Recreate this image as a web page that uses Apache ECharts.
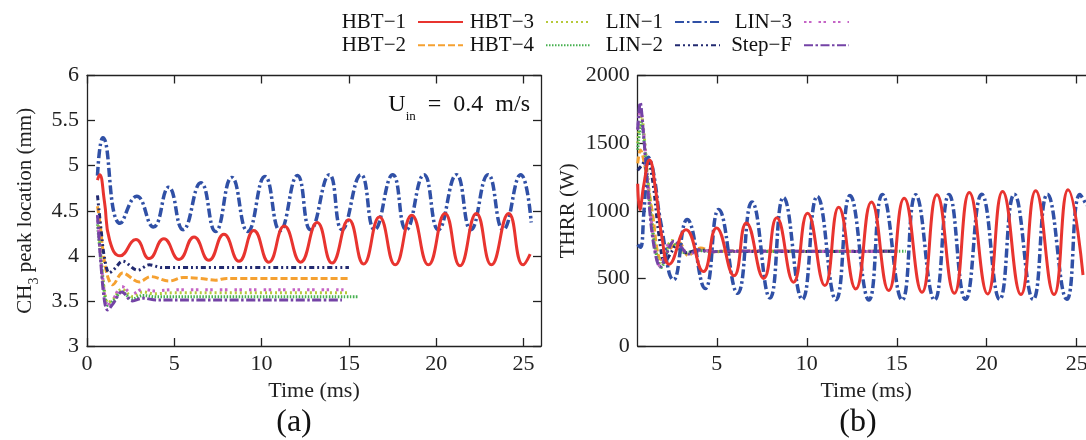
<!DOCTYPE html>
<html><head><meta charset="utf-8">
<script src="https://cdn.jsdelivr.net/npm/echarts@6/dist/echarts.min.js"></script>
<style>html,body{margin:0;padding:0;background:#fff}#c{width:1086px;height:440px}</style>
</head><body><div id="c"></div>
<script>
// ---------- data ----------
const seriesNames = ['HBT−1','HBT−2','HBT−3','HBT−4','LIN−1','LIN−2','LIN−3','Step−F'];
const xTicksA = [0,5,10,15,20,25];
const xTicksB = [5,10,15,20,25];

// panel (a): CH3 peak location (mm) vs time (ms)
const a_HBT1 = [[0.6,4.84],[0.72,4.90],[1.0,4.6],[1.3,4.17],[1.9,4.0],[2.8,4.18],[3.56,3.97],[4.4,4.19],[5.27,3.96],[6.13,4.21],[6.98,3.95],[7.84,4.24],[8.7,3.94],[9.55,4.28],[10.41,3.93],[11.3,4.33],[12.23,3.93],[13.18,4.37],[14.03,3.92],[14.99,4.40],[15.84,3.91],[16.75,4.43],[17.65,3.9],[18.6,4.45],[19.55,3.9],[20.5,4.47],[21.36,3.89],[22.3,4.47],[23.16,3.9],[24.15,4.47],[24.97,3.9],[25.38,4.02]];
const a_HBT2 = [[0.6,4.55],[0.75,4.35],[0.95,4.0],[1.2,3.76],[1.47,3.68],[2.04,3.81],[2.99,3.71],[3.65,3.77],[4.7,3.72],[5.5,3.76],[6.5,3.75],[7.36,3.73],[8.0,3.75],[15.0,3.75]];
const a_HBT3 = [[0.6,4.45],[0.8,4.0],[1.0,3.62],[1.2,3.48],[1.5,3.52],[2.0,3.63],[2.6,3.55],[3.2,3.6],[3.8,3.58],[5.0,3.59],[15.0,3.59]];
const a_HBT4 = [[0.6,4.35],[0.8,3.95],[1.0,3.58],[1.2,3.45],[1.5,3.5],[2.0,3.6],[2.6,3.52],[3.2,3.56],[4.0,3.545],[15.5,3.545]];
const a_LIN1 = [[0.6,4.89],[0.91,5.31],[1.9,4.36],[2.85,4.66],[3.8,4.32],[4.68,4.76],[5.5,4.29],[6.52,4.81],[7.36,4.27],[8.29,4.87],[9.2,4.27],[10.19,4.88],[11.05,4.28],[12.05,4.89],[12.8,4.29],[13.88,4.9],[14.6,4.29],[15.69,4.9],[16.47,4.29],[17.51,4.9],[18.28,4.29],[19.3,4.9],[20.12,4.29],[21.16,4.9],[21.98,4.29],[22.97,4.9],[23.83,4.29],[24.84,4.9],[25.44,4.37]];
const a_LIN2 = [[0.6,4.67],[0.8,4.3],[1.0,3.98],[1.28,3.81],[1.6,3.86],[2.04,3.94],[2.9,3.84],[3.56,3.9],[4.3,3.87],[15.0,3.87]];
const a_LIN3 = [[0.6,4.45],[0.8,3.95],[1.0,3.58],[1.15,3.45],[1.45,3.5],[2.0,3.66],[2.6,3.58],[3.2,3.63],[3.9,3.61],[5.0,3.625],[15.0,3.625]];
const a_STEPF = [[0.6,4.45],[0.8,3.9],[1.0,3.5],[1.18,3.40],[1.5,3.47],[2.0,3.6],[2.6,3.5],[3.2,3.53],[4.0,3.51],[14.6,3.51]];

// panel (b): THRR (W) vs time (ms)
const b_HBT1 = [[0.6,1200],[0.72,1010],[0.95,1200],[1.25,1375],[1.6,1150],[1.95,800],[2.35,605],[3.28,860],[4.25,550],[4.98,873],[5.95,520],[6.64,910],[7.6,500],[8.33,948],[9.26,472],[10.04,982],[11.0,447],[11.77,1025],[12.72,422],[13.59,1065],[14.55,410],[15.41,1093],[16.4,398],[17.23,1118],[18.2,390],[19.03,1135],[20.05,385],[20.88,1143],[21.9,380],[22.72,1148],[23.74,380],[24.52,1155],[25.35,525]];
const b_HBT2 = [[0.6,1350],[0.75,1450],[1.0,1330],[1.4,1000],[1.9,640],[2.4,720],[2.9,765],[3.4,670],[4.1,725],[4.8,695],[5.5,702],[15.0,700]];
const b_HBT3 = [[0.6,1500],[0.8,1700],[1.0,1500],[1.3,1050],[1.6,720],[1.9,600],[2.5,780],[3.2,685],[4.0,708],[5.0,698],[15.0,700]];
const b_HBT4 = [[0.6,1450],[0.8,1650],[1.0,1450],[1.3,1000],[1.6,700],[1.9,580],[2.5,760],[3.2,690],[4.0,705],[5.0,698],[15.5,700]];
const b_LIN1 = [[0.6,750],[0.75,730],[0.95,1000],[1.2,1395],[1.45,1300],[1.9,900],[2.6,490],[3.35,935],[4.35,425],[5.1,1010],[6.15,390],[6.95,1065],[7.95,355],[8.7,1098],[9.75,345],[10.58,1106],[11.62,342],[12.4,1112],[13.45,340],[14.2,1120],[15.3,340],[16.05,1118],[17.1,340],[17.9,1120],[18.82,345],[19.72,1122],[20.72,345],[21.53,1122],[22.58,345],[23.37,1122],[24.45,345],[25.18,1120],[25.55,1040]];
const b_LIN2 = [[0.6,1300],[0.85,1340],[1.1,1390],[1.4,1250],[1.8,800],[2.1,620],[2.5,700],[2.8,760],[3.3,690],[4.0,710],[5.0,698],[15.0,700]];
const b_LIN3 = [[0.6,1600],[0.75,1760],[0.95,1550],[1.25,1080],[1.55,720],[1.85,590],[2.4,760],[3.0,720],[3.5,685],[4.2,708],[5.0,698],[15.0,700]];
const b_STEPF = [[0.6,1600],[0.74,1800],[0.9,1600],[1.2,1100],[1.5,740],[1.85,585],[2.3,710],[2.6,775],[3.0,735],[3.4,680],[4.0,710],[4.6,695],[5.5,702],[15.0,700]];

// ---------- styles ----------
const FONT = 'Liberation Serif';
const styles = {
  'HBT−1': {color:'#e8342f', type:'solid', width:3},
  'HBT−2': {color:'#f5a131', type:[7,3], width:3},
  'HBT−3': {color:'#b6c93a', type:[2,3], width:3},
  'HBT−4': {color:'#46b04f', type:[1.5,1.5], width:3},
  'LIN−1': {color:'#3050a6', type:[9,3,2.5,3], width:3.5},
  'LIN−2': {color:'#222a70', type:[5,3,2,3,2,3], width:3},
  'LIN−3': {color:'#c564c6', type:[2.5,2.5,2.5,7], width:3},
  'Step−F': {color:'#7443a6', type:[9,2.5,2.5,2.5], width:3}
};
const dataA = {'HBT−1':a_HBT1,'HBT−2':a_HBT2,'HBT−3':a_HBT3,'HBT−4':a_HBT4,'LIN−1':a_LIN1,'LIN−2':a_LIN2,'LIN−3':a_LIN3,'Step−F':a_STEPF};
const dataB = {'HBT−1':b_HBT1,'HBT−2':b_HBT2,'HBT−3':b_HBT3,'HBT−4':b_HBT4,'LIN−1':b_LIN1,'LIN−2':b_LIN2,'LIN−3':b_LIN3,'Step−F':b_STEPF};
const drawOrder = ['HBT−2','HBT−3','HBT−4','LIN−2','LIN−3','Step−F','LIN−1','HBT−1'];

const series = [];
[[dataA,0],[dataB,2]].forEach(([d, axi]) => {
  drawOrder.forEach(n => {
    const s = styles[n];
    const osc = (n === 'HBT−1' || n === 'LIN−1');
    series.push({
      type:'line', name:n, xAxisIndex:axi, yAxisIndex:axi, data:d[n],
      symbol:'none', smooth: osc ? 0.5 : 0.35, animation:false,
      lineStyle:{color:s.color, type:s.type, width:s.width}, itemStyle:{color:s.color}
    });
  });
});

function axLine() { return {onZero:false, lineStyle:{color:'#222', width:1.3}}; }
function ticks(extra) { return Object.assign({inside:true, length:8, lineStyle:{color:'#222', width:1.3}}, extra || {}); }
function lbl(extra) { return Object.assign({fontFamily:FONT, fontSize:22, color:'#222', formatter: v => String(v)}, extra || {}); }

function xAx(grid, min, tv, top) {
  return {
    type:'value', gridIndex:grid, min:min, max:26, position: top ? 'top' : 'bottom',
    splitLine:{show:false}, axisLine:axLine(),
    axisTick:ticks({customValues:tv}),
    axisLabel: top ? {show:false} : lbl({customValues:tv, margin:7}),
    name: top ? '' : 'Time (ms)', nameLocation:'middle', nameGap:27,
    nameTextStyle:{fontFamily:FONT, fontSize:22, color:'#222'}
  };
}
function yAx(grid, min, max, interval, right, name, gap) {
  return {
    type:'value', gridIndex:grid, min:min, max:max, interval:interval, position: right ? 'right' : 'left',
    splitLine:{show:false}, axisLine:axLine(), axisTick:ticks(),
    axisLabel: right ? {show:false} : lbl({margin:8}),
    name: right ? '' : name, nameLocation:'middle', nameRotate:90, nameGap:gap,
    nameTextStyle:{fontFamily:FONT, fontSize:21, color:'#222',
      rich:{n:{fontFamily:FONT, fontSize:21, color:'#222'}, s:{fontFamily:FONT, fontSize:14, color:'#222', verticalAlign:'bottom', padding:[0,0,-5,0]}}}
  };
}

function legendCol(names, right) {
  return {
    orient:'vertical', right:right, top:11, padding:0, itemGap:1.3, align:'right',
    itemWidth:45, itemHeight:14, data:names, selectedMode:false,
    itemStyle:{opacity:0},
    textStyle:{fontFamily:FONT, fontSize:21, color:'#111', lineHeight:22, padding:[0,7,0,0]}
  };
}

const option = {
  backgroundColor:'#fff',
  animation:false,
  grid:[
    {left:87, right:545, top:75.5, bottom:94, containLabel:false, outerBoundsMode:'none'},
    {left:637.7, right:-8.7, top:75.5, bottom:94, containLabel:false, outerBoundsMode:'none'}
  ],
  xAxis:[ xAx(0,0,xTicksA,false), xAx(0,0,xTicksA,true), xAx(1,0.6,xTicksB,false), xAx(1,0.6,xTicksB,true) ],
  yAxis:[
    yAx(0,3,6,0.5,false,'{n|CH}{s|3}{n| peak location (mm)}',51),
    yAx(0,3,6,0.5,true,'',0),
    yAx(1,0,2000,500,false,'THRR (W)',59),
    yAx(1,0,2000,500,true,'',0)
  ],
  legend:[
    legendCol(['HBT−1','HBT−2'], 622),
    legendCol(['HBT−3','HBT−4'], 494),
    legendCol(['LIN−1','LIN−2'], 365),
    legendCol(['LIN−3','Step−F'], 236)
  ],
  graphic:[
    {type:'text', right:1086-530, top:93, style:{text:'{u|U}{s|in}{u|  =  0.4  m/s}', rich:{
      u:{fontFamily:FONT, fontSize:24, fill:'#111'},
      s:{fontFamily:FONT, fontSize:13, fill:'#111', verticalAlign:'bottom', padding:[0,0,-6,0]}}}},
    {type:'text', x:294, y:423, style:{text:'(a)', fontFamily:FONT, fontSize:32, fill:'#111', align:'center', verticalAlign:'middle'}},
    {type:'text', x:858, y:423, style:{text:'(b)', fontFamily:FONT, fontSize:32, fill:'#111', align:'center', verticalAlign:'middle'}}
  ],
  series:series
};
const chart = echarts.init(document.getElementById('c'), null, {renderer:'canvas'});
chart.setOption(option);
</script>
</body></html>
